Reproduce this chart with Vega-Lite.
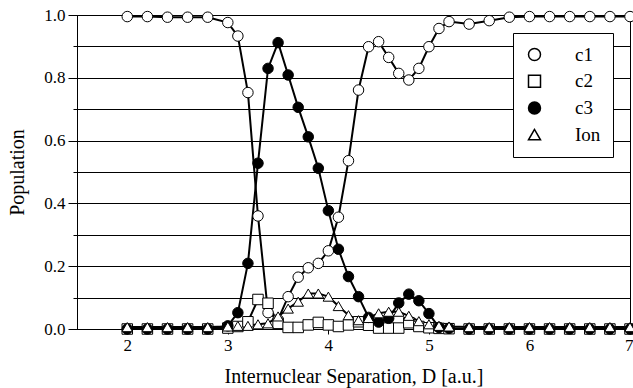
{
  "$schema": "https://vega.github.io/schema/vega-lite/v6.json",
  "width": 553,
  "height": 314,
  "autosize": {"type": "none"},
  "padding": {"left": 77, "top": 15, "right": 3, "bottom": 59},
  "background": "white",
  "config": {
    "view": {"stroke": "black", "strokeWidth": 1},
    "font": "Liberation Serif",
    "axis": {"labelFont": "Liberation Serif", "titleFont": "Liberation Serif", "labelColor": "black", "titleColor": "black", "domainColor": "black", "tickColor": "black", "titleFontWeight": "normal"},
    "legend": {"labelFont": "Liberation Serif"}
  },
  "data": {"values": [
    {"D":2.0,"s":"c1","v":0.995},{"D":2.2,"s":"c1","v":0.995},{"D":2.4,"s":"c1","v":0.993},{"D":2.6,"s":"c1","v":0.993},{"D":2.8,"s":"c1","v":0.993},{"D":3.0,"s":"c1","v":0.976},{"D":3.1,"s":"c1","v":0.933},{"D":3.2,"s":"c1","v":0.753},{"D":3.3,"s":"c1","v":0.36},{"D":3.4,"s":"c1","v":0.052},{"D":3.5,"s":"c1","v":0.03},{"D":3.6,"s":"c1","v":0.103},{"D":3.7,"s":"c1","v":0.165},{"D":3.8,"s":"c1","v":0.195},{"D":3.9,"s":"c1","v":0.209},{"D":4.0,"s":"c1","v":0.249},{"D":4.1,"s":"c1","v":0.356},{"D":4.2,"s":"c1","v":0.536},{"D":4.3,"s":"c1","v":0.761},{"D":4.4,"s":"c1","v":0.899},{"D":4.5,"s":"c1","v":0.915},{"D":4.6,"s":"c1","v":0.865},{"D":4.7,"s":"c1","v":0.814},{"D":4.8,"s":"c1","v":0.793},{"D":4.9,"s":"c1","v":0.83},{"D":5.0,"s":"c1","v":0.899},{"D":5.1,"s":"c1","v":0.957},{"D":5.2,"s":"c1","v":0.979},{"D":5.4,"s":"c1","v":0.971},{"D":5.6,"s":"c1","v":0.982},{"D":5.8,"s":"c1","v":0.993},{"D":6.0,"s":"c1","v":0.995},{"D":6.2,"s":"c1","v":0.995},{"D":6.4,"s":"c1","v":0.995},{"D":6.6,"s":"c1","v":0.995},{"D":6.8,"s":"c1","v":0.995},{"D":7.0,"s":"c1","v":0.995},
    {"D":2.0,"s":"c2","v":0},{"D":2.2,"s":"c2","v":0},{"D":2.4,"s":"c2","v":0},{"D":2.6,"s":"c2","v":0},{"D":2.8,"s":"c2","v":0},{"D":3.0,"s":"c2","v":0.003},{"D":3.1,"s":"c2","v":0.008},{"D":3.2,"s":"c2","v":0.023},{"D":3.3,"s":"c2","v":0.094},{"D":3.4,"s":"c2","v":0.082},{"D":3.5,"s":"c2","v":0.018},{"D":3.6,"s":"c2","v":0.005},{"D":3.7,"s":"c2","v":0.005},{"D":3.8,"s":"c2","v":0.013},{"D":3.9,"s":"c2","v":0.021},{"D":4.0,"s":"c2","v":0.013},{"D":4.1,"s":"c2","v":0.008},{"D":4.2,"s":"c2","v":0.013},{"D":4.3,"s":"c2","v":0.023},{"D":4.4,"s":"c2","v":0.012},{"D":4.5,"s":"c2","v":0.003},{"D":4.6,"s":"c2","v":0.003},{"D":4.7,"s":"c2","v":0.003},{"D":4.8,"s":"c2","v":0.02},{"D":4.9,"s":"c2","v":0.008},{"D":5.0,"s":"c2","v":0.004},{"D":5.1,"s":"c2","v":0.002},{"D":5.2,"s":"c2","v":0.001},{"D":5.4,"s":"c2","v":0},{"D":5.6,"s":"c2","v":0},{"D":5.8,"s":"c2","v":0},{"D":6.0,"s":"c2","v":0},{"D":6.2,"s":"c2","v":0},{"D":6.4,"s":"c2","v":0},{"D":6.6,"s":"c2","v":0},{"D":6.8,"s":"c2","v":0},{"D":7.0,"s":"c2","v":0},
    {"D":2.0,"s":"c3","v":0},{"D":2.2,"s":"c3","v":0},{"D":2.4,"s":"c3","v":0},{"D":2.6,"s":"c3","v":0},{"D":2.8,"s":"c3","v":0},{"D":3.0,"s":"c3","v":0.01},{"D":3.1,"s":"c3","v":0.052},{"D":3.2,"s":"c3","v":0.209},{"D":3.3,"s":"c3","v":0.528},{"D":3.4,"s":"c3","v":0.83},{"D":3.5,"s":"c3","v":0.912},{"D":3.6,"s":"c3","v":0.809},{"D":3.7,"s":"c3","v":0.706},{"D":3.8,"s":"c3","v":0.612},{"D":3.9,"s":"c3","v":0.512},{"D":4.0,"s":"c3","v":0.377},{"D":4.1,"s":"c3","v":0.254},{"D":4.2,"s":"c3","v":0.167},{"D":4.3,"s":"c3","v":0.103},{"D":4.4,"s":"c3","v":0.037},{"D":4.5,"s":"c3","v":0.022},{"D":4.6,"s":"c3","v":0.034},{"D":4.7,"s":"c3","v":0.083},{"D":4.8,"s":"c3","v":0.111},{"D":4.9,"s":"c3","v":0.09},{"D":5.0,"s":"c3","v":0.049},{"D":5.1,"s":"c3","v":0.005},{"D":5.2,"s":"c3","v":0.002},{"D":5.4,"s":"c3","v":0},{"D":5.6,"s":"c3","v":0},{"D":5.8,"s":"c3","v":0},{"D":6.0,"s":"c3","v":0},{"D":6.2,"s":"c3","v":0},{"D":6.4,"s":"c3","v":0},{"D":6.6,"s":"c3","v":0},{"D":6.8,"s":"c3","v":0},{"D":7.0,"s":"c3","v":0},
    {"D":2.0,"s":"Ion","v":0.006},{"D":2.2,"s":"Ion","v":0.006},{"D":2.4,"s":"Ion","v":0.006},{"D":2.6,"s":"Ion","v":0.006},{"D":2.8,"s":"Ion","v":0.006},{"D":3.0,"s":"Ion","v":0.008},{"D":3.1,"s":"Ion","v":0.01},{"D":3.2,"s":"Ion","v":0.01},{"D":3.3,"s":"Ion","v":0.015},{"D":3.4,"s":"Ion","v":0.018},{"D":3.5,"s":"Ion","v":0.04},{"D":3.6,"s":"Ion","v":0.065},{"D":3.7,"s":"Ion","v":0.087},{"D":3.8,"s":"Ion","v":0.113},{"D":3.9,"s":"Ion","v":0.113},{"D":4.0,"s":"Ion","v":0.103},{"D":4.1,"s":"Ion","v":0.073},{"D":4.2,"s":"Ion","v":0.044},{"D":4.3,"s":"Ion","v":0.028},{"D":4.4,"s":"Ion","v":0.035},{"D":4.5,"s":"Ion","v":0.05},{"D":4.6,"s":"Ion","v":0.055},{"D":4.7,"s":"Ion","v":0.055},{"D":4.8,"s":"Ion","v":0.042},{"D":4.9,"s":"Ion","v":0.025},{"D":5.0,"s":"Ion","v":0.015},{"D":5.1,"s":"Ion","v":0.01},{"D":5.2,"s":"Ion","v":0.008},{"D":5.4,"s":"Ion","v":0.006},{"D":5.6,"s":"Ion","v":0.006},{"D":5.8,"s":"Ion","v":0.006},{"D":6.0,"s":"Ion","v":0.006},{"D":6.2,"s":"Ion","v":0.006},{"D":6.4,"s":"Ion","v":0.006},{"D":6.6,"s":"Ion","v":0.006},{"D":6.8,"s":"Ion","v":0.006},{"D":7.0,"s":"Ion","v":0.006}
  ]},
  "encoding": {
    "x": {
      "field": "D", "type": "quantitative",
      "scale": {"domain": [1.5, 7], "nice": false, "zero": false},
      "axis": {
        "title": "Internuclear Separation, D [a.u.]",
        "values": [2, 2.5, 3, 3.5, 4, 4.5, 5, 5.5, 6, 6.5, 7],
        "format": "d",
        "labelExpr": "datum.value % 1 === 0 ? datum.label : ''",
        "labelFlush": true,
        "labelFlushOffset": 3,
        "grid": false,
        "tickSize": 5,
        "labelPadding": 3,
        "labelFontSize": 17,
        "titleFontSize": 20,
        "titlePadding": 13
      }
    },
    "y": {
      "field": "v", "type": "quantitative",
      "scale": {"domain": [0, 1], "nice": false},
      "axis": {
        "title": "Population",
        "values": [0, 0.1, 0.2, 0.3, 0.4, 0.5, 0.6, 0.7, 0.8, 0.9, 1.0],
        "format": ".1f",
        "labelExpr": "round(datum.value * 10) % 2 === 0 ? datum.label : ''",
        "grid": true,
        "gridColor": "black",
        "gridOpacity": 1,
        "gridWidth": 1,
        "tickSize": {"condition": {"test": "round(datum.value * 10) % 2 === 0", "value": 9}, "value": 4},
        "labelPadding": 3,
        "labelFontSize": 17,
        "titleFontSize": 20,
        "titlePadding": 16
      }
    }
  },
  "layer": [
    {
      "mark": {"type": "line", "color": "black", "strokeWidth": 2},
      "encoding": {"detail": {"field": "s"}}
    },
    {
      "mark": {"type": "point", "filled": true, "stroke": "black", "strokeWidth": 1, "size": 110, "opacity": 1},
      "encoding": {
        "shape": {
          "field": "s", "type": "nominal",
          "scale": {"domain": ["c1", "c2", "c3", "Ion"], "range": ["circle", "square", "circle", "triangle-up"]},
          "legend": {
            "title": null,
            "orient": "none",
            "legendX": 436,
            "legendY": 18,
            "padding": 12,
            "fillColor": "white",
            "strokeColor": "black",
            "symbolSize": 144,
            "symbolStrokeWidth": 1.5,
            "symbolOpacity": 1,
            "symbolOffset": 0,
            "labelOffset": 31,
            "labelFontSize": 19,
            "labelColor": "black",
            "rowPadding": 6.7
          }
        },
        "fill": {
          "field": "s", "type": "nominal",
          "scale": {"domain": ["c1", "c2", "c3", "Ion"], "range": ["white", "white", "black", "white"]},
          "legend": {"title": null}
        }
      }
    }
  ]
}
